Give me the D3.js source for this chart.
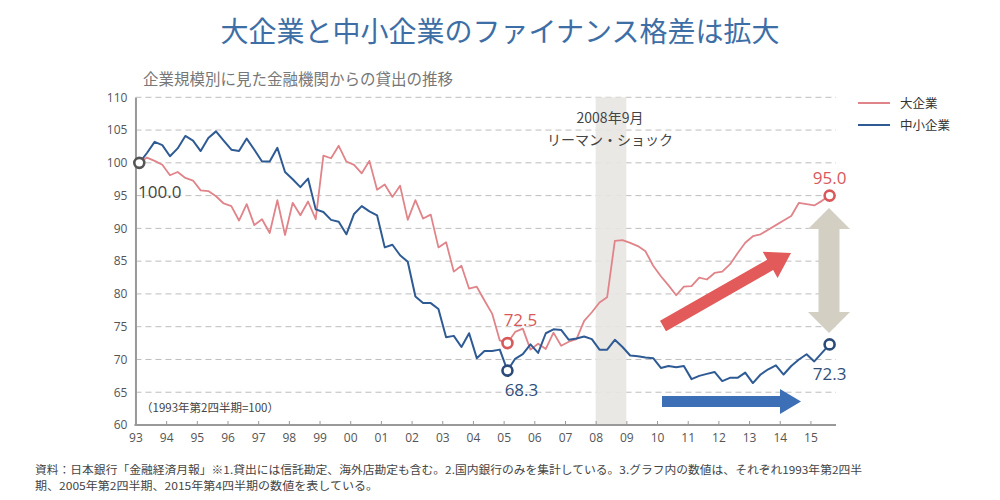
<!DOCTYPE html>
<html><head><meta charset="utf-8">
<script src="https://cdn.jsdelivr.net/npm/d3@7"></script>
<style>
html,body{margin:0;padding:0;background:#fff;}
svg{display:block;font-family:"Noto Sans CJK JP","Noto Sans",sans-serif;}
</style></head>
<body><svg id="c" width="1000" height="500"></svg>
<script>
// ---- data ----
const yearLabels = ["93","94","95","96","97","98","99","00","01","02","03","04","05","06","07","08","09","10","11","12","13","14","15"];
const yTicks = [60,65,70,75,80,85,90,95,100,105,110];
const seriesNames = ["大企業","中小企業"];
// quarterly, 1993Q2 .. 2015Q4 (index = 1993年第2四半期=100)
const large = [100.0,100.8,100.3,99.7,98.1,98.6,97.7,97.3,95.8,95.7,
  94.9,93.8,93.4,91.2,93.7,90.5,91.4,89.3,94.3,89.0,
  93.9,92.0,94.1,91.4,101.1,100.7,102.6,100.2,99.7,98.4,
  100.3,95.9,96.7,94.8,96.5,91.3,94.3,91.5,92.1,87.1,
  87.9,83.4,84.3,80.8,81.1,79.0,77.0,72.9,72.5,74.2,
  74.7,71.5,72.4,71.6,74.1,72.1,72.7,73.1,75.9,77.2,
  78.7,79.5,88.1,88.2,87.8,87.3,86.5,84.3,82.7,81.3,
  79.8,81.1,81.2,82.5,82.2,83.2,83.4,84.5,86.2,87.8,
  88.8,89.1,89.8,90.5,91.2,91.9,93.9,93.7,93.5,94.2,95.0];
const small = [100.0,101.5,103.2,102.7,101.0,102.2,104.1,103.4,101.8,103.8,
  104.8,103.4,102.0,101.8,103.7,102.0,100.2,100.2,102.3,98.6,
  97.5,96.3,97.6,92.9,92.5,91.3,91.0,89.1,92.2,93.4,
  92.6,92.0,87.1,87.5,85.9,84.9,79.6,78.6,78.6,77.7,
  73.4,73.6,71.9,74.0,70.2,71.3,71.3,71.5,68.3,70.1,
  70.8,72.3,71.0,74.0,74.6,74.5,73.0,73.2,73.5,73.1,
  71.5,71.5,73.0,71.9,70.6,70.5,70.3,70.2,68.7,69.0,
  68.8,69.0,67.0,67.5,67.8,68.1,66.7,67.2,67.2,68.0,
  66.4,67.7,68.5,69.1,67.7,69.0,70.0,70.8,69.7,71.0,72.3];
const marks = [
  {series:"both", i:0, value:100.0, label:"100.0"},
  {series:"large", i:48, value:72.5, label:"72.5"},
  {series:"small", i:48, value:68.3, label:"68.3"},
  {series:"large", i:90, value:95.0, label:"95.0"},
  {series:"small", i:90, value:72.3, label:"72.3"}
];
const shockStart = 2008, shockEnd = 2009;

// ---- layout ----
const svg = d3.select("#c");
const RED = "#e0848a", BLUE = "#2f5b94", REDTXT = "#d9585a", GRAY = "#999";
const x = d3.scaleLinear().domain([0, 90]).range([139.3, 829.6]);
const y = d3.scaleLinear().domain([60, 110]).range([425, 97.3]);
const yearPos = yr => x((yr - 1993) * 4 - 0.5);
const x0 = yearPos(1993), xEnd = 836;

// title
svg.append("text").attr("x", 500).attr("y", 42).attr("text-anchor","middle")
  .attr("font-size", 28).attr("fill", "#3e6ea6").text("大企業と中小企業のファイナンス格差は拡大");
svg.append("text").attr("x", 143).attr("y", 85)
  .attr("font-size", 15.5).attr("fill", "#777").text("企業規模別に見た金融機関からの貸出の推移");

// gridlines
svg.append("g").selectAll("line").data(yTicks.filter(d => d > 60)).join("line")
  .attr("x1", x0).attr("x2", xEnd).attr("y1", d => y(d)).attr("y2", d => y(d))
  .attr("stroke", "#bdbdbd").attr("stroke-width", 1).attr("stroke-dasharray", "6,4");

// shaded band
svg.append("rect").attr("x", yearPos(shockStart)).attr("width", yearPos(shockEnd) - yearPos(shockStart))
  .attr("y", y(110)).attr("height", y(60) - y(110)).attr("fill", "#e8e6e1").attr("opacity", 0.9);
svg.append("text").attr("x", 610).attr("y", 123).attr("text-anchor","middle")
  .attr("font-size", 14).attr("fill", "#444").text("2008年9月");
svg.append("text").attr("x", 610).attr("y", 145).attr("text-anchor","middle")
  .attr("font-size", 14).attr("fill", "#444").text("リーマン・ショック");

// y axis
const yAxis = d3.axisLeft(y).tickValues(yTicks).tickSize(0).tickPadding(8);
const gy = svg.append("g").attr("transform", `translate(${x0},0)`).call(yAxis);
gy.select(".domain").attr("stroke", GRAY).attr("stroke-width", 2);
gy.selectAll("text").attr("font-size", 12).attr("fill", "#555").attr("font-family", "'Open Sans','Noto Sans',sans-serif");

// x axis
const tickIdx = yearLabels.map((d, k) => k * 4 - 0.5);
const xAxis = d3.axisBottom(x).tickValues(tickIdx).tickSize(-4).tickPadding(8)
  .tickFormat((d, k) => yearLabels[k]);
const gx = svg.append("g").attr("transform", `translate(0,${y(60)})`).call(xAxis);
gx.select(".domain").remove();
gx.append("line").attr("x1", x0 - 1).attr("x2", xEnd).attr("stroke", GRAY).attr("stroke-width", 2);
gx.selectAll(".tick line").attr("stroke", GRAY);
gx.selectAll("text").attr("font-size", 12).attr("fill", "#555").attr("font-family", "'Open Sans','Noto Sans',sans-serif");

svg.append("text").attr("x", 141).attr("y", 412).attr("font-size", 11.5).attr("fill", "#444")
  .text("（1993年第2四半期=100）");

// lines
const line = d3.line().x((d, i) => x(i)).y(d => y(d));
svg.append("path").datum(large).attr("d", line).attr("fill","none").attr("stroke", RED).attr("stroke-width", 1.8).attr("stroke-linejoin","round");
svg.append("path").datum(small).attr("d", line).attr("fill","none").attr("stroke", BLUE).attr("stroke-width", 2).attr("stroke-linejoin","round");

// arrows
function arrow(x1, y1, x2, y2, shaft, headW, headL, color, both) {
  const dx = x2 - x1, dy = y2 - y1, L = Math.hypot(dx, dy);
  const ux = dx / L, uy = dy / L, px = -uy, py = ux;
  const pts = [];
  const s = shaft / 2, h = headW / 2;
  const p = (t, o) => [x1 + ux * t + px * o, y1 + uy * t + py * o];
  if (both) {
    pts.push(p(0, 0), p(headL, h), p(headL, s), p(L - headL, s), p(L - headL, h), p(L, 0),
             p(L - headL, -h), p(L - headL, -s), p(headL, -s), p(headL, -h));
  } else {
    pts.push(p(0, s), p(L - headL, s), p(L - headL, h), p(L, 0), p(L - headL, -h), p(L - headL, -s), p(0, -s));
  }
  svg.append("polygon").attr("points", pts.map(q => q.join(",")).join(" ")).attr("fill", color);
}
arrow(663, 326, 791, 253, 12, 30, 24, "#e25a5a", false);
arrow(662, 401.5, 801, 401.5, 11, 25, 21, "#3d6fb6", false);
arrow(829, 208, 829, 333, 21, 42, 21, "#d3cfc3", true);

// marker circles & labels
const labelPos = {
  "100.0": {dx: 0, dy: 35, anchor: "start", color: "#444", x: 138},
  "72.5": {dx: 13, dy: -17, anchor: "middle", color: REDTXT},
  "68.3": {dx: 14, dy: 25, anchor: "middle", color: "#2f4f7a"},
  "95.0": {dx: 0, dy: -12, anchor: "middle", color: REDTXT},
  "72.3": {dx: 0, dy: 36, anchor: "middle", color: "#2f4f7a"}
};
marks.forEach(m => {
  const cx = x(m.i), cy = y(m.value);
  const stroke = m.series === "large" ? "#d9585a" : (m.series === "small" ? "#2a4a78" : "#555");
  svg.append("circle").attr("cx", cx).attr("cy", cy).attr("r", 5)
    .attr("fill", "#fff").attr("stroke", stroke).attr("stroke-width", 2.6);
  const lp = labelPos[m.label];
  svg.append("text").attr("x", lp.x !== undefined ? lp.x : cx + lp.dx).attr("y", cy + lp.dy)
    .attr("text-anchor", lp.anchor).attr("font-size", 17).attr("fill", lp.color)
    .attr("font-family", "'Open Sans','Noto Sans',sans-serif").text(m.label);
});

// legend
const lg = svg.append("g");
[[seriesNames[0], RED, 103], [seriesNames[1], BLUE, 125]].forEach(([t, c, yy]) => {
  lg.append("line").attr("x1", 858).attr("x2", 890).attr("y1", yy).attr("y2", yy).attr("stroke", c).attr("stroke-width", 2);
  lg.append("text").attr("x", 900).attr("y", yy + 4.5).attr("font-size", 12.5).attr("fill", "#333").text(t);
});

// footnote
const fn1 = "資料：日本銀行「金融経済月報」※1.貸出には信託勘定、海外店勘定も含む。2.国内銀行のみを集計している。3.グラフ内の数値は、それぞれ1993年第2四半";
const fn2 = "期、2005年第2四半期、2015年第4四半期の数値を表している。";
svg.append("text").attr("x", 35).attr("y", 474).attr("font-size", 11).attr("fill", "#444")
  .attr("textLength", 827).attr("lengthAdjust", "spacingAndGlyphs").text(fn1);
svg.append("text").attr("x", 35).attr("y", 490).attr("font-size", 11).attr("fill", "#444")
  .attr("textLength", 343).attr("lengthAdjust", "spacingAndGlyphs").text(fn2);
</script></body></html>
